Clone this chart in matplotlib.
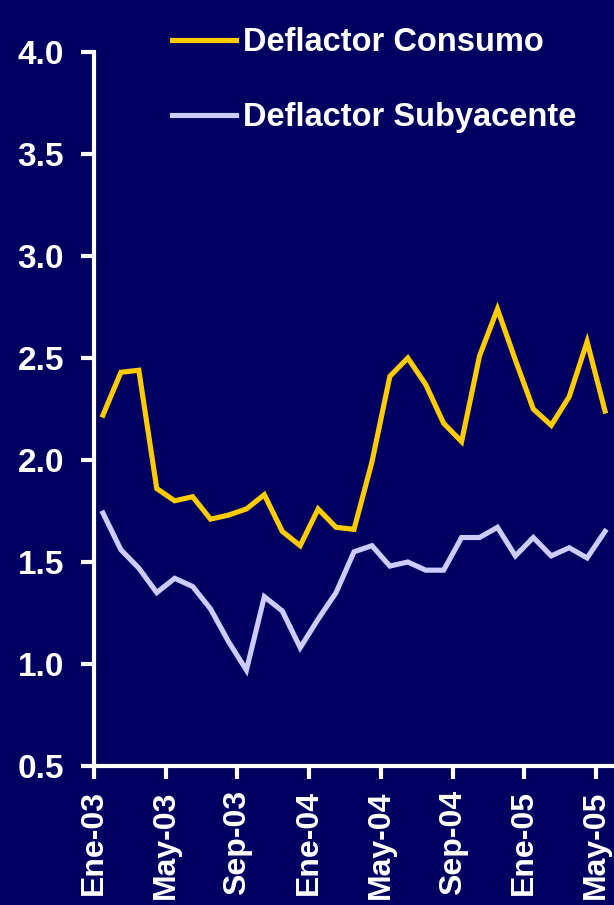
import matplotlib

matplotlib.use("Agg")
import matplotlib.pyplot as plt

months = ["Ene", "Feb", "Mar", "Abr", "May", "Jun", "Jul", "Ago", "Sep", "Oct", "Nov", "Dic"]
periods = [f"{months[i % 12]}-{3 + i // 12:02d}" for i in range(29)]

deflactor_consumo = [
    2.22, 2.43, 2.44, 1.86, 1.80, 1.82, 1.71, 1.73, 1.76, 1.83,
    1.65, 1.58, 1.76, 1.67, 1.66, 1.99, 2.41, 2.50, 2.37, 2.18,
    2.09, 2.51, 2.74, 2.49, 2.25, 2.17, 2.31, 2.58, 2.24,
]
deflactor_subyacente = [
    1.74, 1.56, 1.47, 1.35, 1.42, 1.38, 1.27, 1.11, 0.97, 1.33,
    1.26, 1.08, 1.22, 1.35, 1.55, 1.58, 1.48, 1.50, 1.46, 1.46,
    1.62, 1.62, 1.67, 1.53, 1.62, 1.53, 1.57, 1.52, 1.65,
]

BG = "#000060"
YELLOW = "#FFCC00"
LAVENDER = "#CCCCFF"

plt.rcParams["font.family"] = ["Liberation Sans", "DejaVu Sans"]
plt.rcParams["font.weight"] = "bold"

fig = plt.figure(figsize=(6.14, 9.05), dpi=100, facecolor=BG)
ax = fig.add_axes([94 / 614, 1 - 766 / 905, 1 - 94 / 614, (766 - 52) / 905])
ax.set_facecolor(BG)

x = [i + 0.5 for i in range(len(periods))]
ax.plot(x, deflactor_consumo, color=YELLOW, lw=3.7, solid_joinstyle="miter",
        label="Deflactor Consumo", clip_on=False)
ax.plot(x, deflactor_subyacente, color=LAVENDER, lw=3.7, solid_joinstyle="miter",
        label="Deflactor Subyacente", clip_on=False)

ax.set_xlim(0, len(periods))
ax.set_ylim(0.5, 4.0)
ax.set_yticks([0.5, 1.0, 1.5, 2.0, 2.5, 3.0, 3.5, 4.0])
ax.set_yticklabels([f"{v:.1f}" for v in ax.get_yticks()])
ax.set_xticks(range(0, len(periods), 4))
ax.set_xticklabels(periods[::4], rotation=90)

for s in ["top", "right"]:
    ax.spines[s].set_visible(False)
for s in ["left", "bottom"]:
    ax.spines[s].set_color("white")
    ax.spines[s].set_linewidth(3)
ax.tick_params(axis="both", colors="white", width=3, length=9.5)
ax.tick_params(axis="y", pad=12, labelsize=24)
ax.tick_params(axis="x", pad=8, labelsize=23)

leg = ax.legend(loc="upper left", bbox_to_anchor=(172 / 614, 1 - 27 / 905),
                bbox_transform=fig.transFigure, frameon=False, fontsize=23.5,
                handlelength=1.96, handletextpad=0.21, labelspacing=1.36,
                borderpad=0, borderaxespad=0)
for t in leg.get_texts():
    t.set_color("white")

fig.savefig("out.png", dpi=100, facecolor=BG)
